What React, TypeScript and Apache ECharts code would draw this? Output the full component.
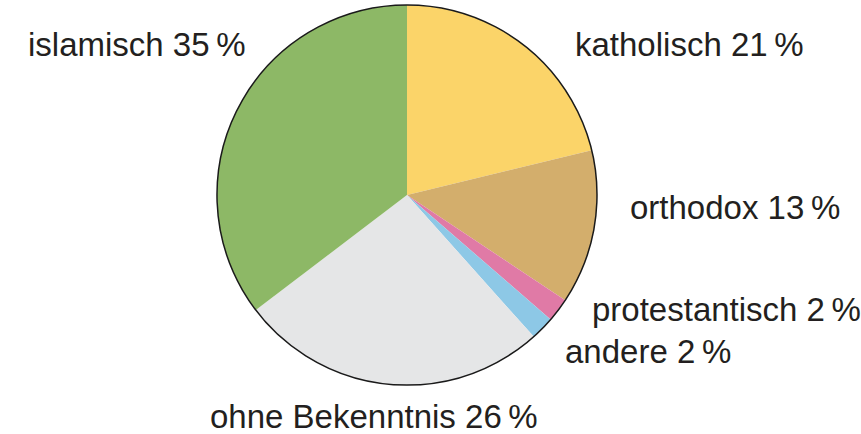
import React, { useEffect, useRef } from "react";
import * as echarts from "echarts";

const categories = ["katholisch", "orthodox", "protestantisch", "andere", "ohne Bekenntnis", "islamisch"];
const values = [21, 13, 2, 2, 26, 35];
const colors = ["#FBD469", "#D3AE6C", "#E07AA6", "#8DC8E6", "#E5E6E7", "#8DB866"];

// label anchor positions (layout, px)
const labelLayoutPos: Record<string, [number, number]> = {
  katholisch: [575, 44],
  orthodox: [630, 207],
  protestantisch: [592, 309],
  andere: [565, 351],
  "ohne Bekenntnis": [210, 416],
  islamisch: [28, 44],
};

export default function App() {
  const ref = useRef<HTMLDivElement>(null);
  useEffect(() => {
    if (!ref.current) return;
    const chart = echarts.init(ref.current, null, { renderer: "svg" });
    const center = [407, 195];
    const radius = 190;
    chart.setOption({
      animation: false,
      backgroundColor: "#ffffff",
      series: [
        {
          type: "pie",
          center,
          radius: [0, radius],
          startAngle: 90,
          clockwise: true,
          silent: true,
          itemStyle: { borderWidth: 0 },
          emphasis: { disabled: true },
          labelLine: { show: false },
          avoidLabelOverlap: false,
          label: {
            show: true,
            position: "outside",
            formatter: (p: any) => `${p.name} ${p.value}\u2009%`,
            fontFamily: "Liberation Sans, Arial, sans-serif",
            fontSize: 33,
            lineHeight: 30,
            color: "#231f20",
            overflow: "none",
            width: 400,
          },
          labelLayout: (p: any) => {
            const name = categories[p.dataIndex];
            const pos = labelLayoutPos[name];
            return { x: pos[0], y: pos[1], align: "left", verticalAlign: "middle", hideOverlap: false, moveOverlap: null };
          },
          data: categories.map((c, i) => ({ name: c, value: values[i], itemStyle: { color: colors[i] } })),
        },
        {
          type: "pie",
          center,
          radius: [0, radius],
          silent: true,
          label: { show: false },
          labelLine: { show: false },
          emphasis: { disabled: true },
          itemStyle: { color: "rgba(0,0,0,0)", borderColor: "#1a1a1a", borderWidth: 1.5 },
          data: [{ value: 1, name: "outline" }],
        },
      ],
    });
    return () => chart.dispose();
  }, []);
  return (
    <div
      ref={ref}
      style={{ position: "fixed", left: 0, top: 0, width: 861, height: 434 }}
    />
  );
}
